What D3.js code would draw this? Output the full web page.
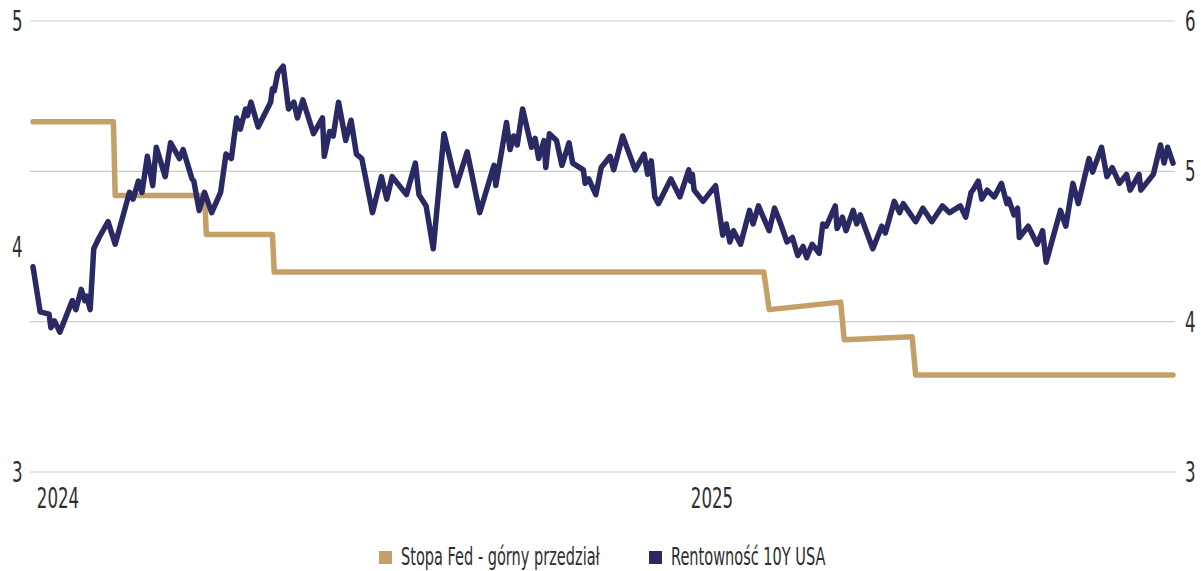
<!DOCTYPE html>
<html>
<head>
<meta charset="utf-8">
<script src="https://cdn.jsdelivr.net/npm/d3@7"></script>
<style>
  body { margin: 0; background: #fff; }
  text { font-family: "DejaVu Sans Condensed", "Liberation Sans Narrow", "Roboto", sans-serif; fill: #2e2e2e; }
</style>
</head>
<body>
<script>
// Fed upper bound (right axis)
const fedRate = [
  ["2023-12-18", 5.33], ["2024-02-01", 5.33], ["2024-02-02", 4.84], ["2024-03-23", 4.84],
  ["2024-03-24", 4.58], ["2024-04-30", 4.58], ["2024-05-01", 4.33], ["2025-01-30", 4.33],
  ["2025-02-02", 4.08], ["2025-03-14", 4.13], ["2025-03-16", 3.88], ["2025-04-23", 3.90],
  ["2025-04-25", 3.645], ["2025-09-16", 3.645]
];

// 10Y treasury yield (left axis)
const yield10y = [
  ["2023-12-18",3.91],["2023-12-22",3.71],["2023-12-27",3.70],["2023-12-28",3.64],["2023-12-30",3.67],
  ["2024-01-02",3.62],["2024-01-09",3.76],["2024-01-11",3.72],["2024-01-14",3.81],["2024-01-16",3.76],
  ["2024-01-17",3.78],["2024-01-19",3.72],["2024-01-21",3.99],["2024-01-24",4.04],["2024-01-29",4.11],
  ["2024-02-02",4.01],["2024-02-10",4.24],["2024-02-12",4.21],["2024-02-15",4.29],["2024-02-17",4.24],
  ["2024-02-20",4.40],["2024-02-23",4.27],["2024-02-25",4.44],["2024-03-01",4.31],["2024-03-04",4.46],
  ["2024-03-09",4.39],["2024-03-11",4.43],["2024-03-16",4.30],["2024-03-17",4.29],["2024-03-20",4.16],
  ["2024-03-23",4.24],["2024-03-27",4.15],["2024-04-01",4.24],["2024-04-04",4.41],["2024-04-07",4.39],
  ["2024-04-10",4.57],["2024-04-12",4.52],["2024-04-15",4.61],["2024-04-16",4.58],["2024-04-18",4.64],
  ["2024-04-22",4.53],["2024-04-29",4.64],["2024-04-30",4.70],["2024-05-01",4.69],["2024-05-03",4.77],
  ["2024-05-06",4.80],["2024-05-09",4.61],["2024-05-12",4.64],["2024-05-14",4.57],["2024-05-17",4.65],
  ["2024-05-23",4.50],["2024-05-28",4.57],["2024-05-29",4.40],["2024-06-01",4.51],["2024-06-03",4.49],
  ["2024-06-06",4.64],["2024-06-10",4.47],["2024-06-13",4.56],["2024-06-16",4.41],["2024-06-19",4.39],
  ["2024-06-25",4.15],["2024-06-30",4.31],["2024-07-03",4.21],["2024-07-06",4.31],["2024-07-14",4.23],
  ["2024-07-19",4.37],["2024-07-21",4.23],["2024-07-25",4.18],["2024-07-29",3.99],["2024-08-04",4.50],
  ["2024-08-11",4.27],["2024-08-17",4.42],["2024-08-24",4.15],["2024-09-01",4.36],["2024-09-02",4.27],
  ["2024-09-08",4.55],["2024-09-10",4.43],["2024-09-12",4.49],["2024-09-14",4.45],["2024-09-17",4.61],
  ["2024-09-22",4.44],["2024-09-24",4.48],["2024-09-26",4.39],["2024-09-29",4.47],["2024-09-30",4.35],
  ["2024-10-02",4.50],["2024-10-06",4.47],["2024-10-09",4.36],["2024-10-13",4.46],["2024-10-15",4.37],
  ["2024-10-21",4.34],["2024-10-22",4.28],["2024-10-24",4.30],["2024-10-28",4.23],["2024-10-31",4.35],
  ["2024-11-05",4.40],["2024-11-07",4.34],["2024-11-12",4.49],["2024-11-19",4.34],["2024-11-24",4.41],
  ["2024-11-26",4.32],["2024-11-28",4.38],["2024-11-30",4.22],["2024-12-02",4.19],["2024-12-09",4.30],
  ["2024-12-14",4.22],["2024-12-19",4.34],["2024-12-20",4.29],["2024-12-21",4.32],["2024-12-22",4.25],
  ["2024-12-27",4.20],["2025-01-03",4.27],["2025-01-07",4.05],["2025-01-09",4.10],["2025-01-11",4.02],
  ["2025-01-13",4.07],["2025-01-17",4.01],["2025-01-22",4.16],["2025-01-24",4.10],["2025-01-27",4.18],
  ["2025-02-02",4.07],["2025-02-05",4.17],["2025-02-08",4.11],["2025-02-12",4.02],["2025-02-15",4.04],
  ["2025-02-18",3.96],["2025-02-21",4.00],["2025-02-23",3.95],["2025-02-26",4.01],["2025-03-02",3.97],
  ["2025-03-04",4.10],["2025-03-06",4.09],["2025-03-11",4.18],["2025-03-12",4.08],["2025-03-15",4.13],
  ["2025-03-17",4.07],["2025-03-21",4.16],["2025-03-23",4.10],["2025-03-25",4.14],["2025-04-01",3.99],
  ["2025-04-06",4.09],["2025-04-08",4.06],["2025-04-13",4.20],["2025-04-16",4.15],["2025-04-18",4.19],
  ["2025-04-25",4.11],["2025-04-29",4.17],["2025-05-04",4.11],["2025-05-10",4.18],["2025-05-14",4.15],
  ["2025-05-20",4.18],["2025-05-23",4.13],["2025-05-26",4.24],["2025-05-27",4.25],["2025-05-30",4.29],
  ["2025-06-01",4.21],["2025-06-04",4.25],["2025-06-08",4.22],["2025-06-12",4.28],["2025-06-15",4.19],
  ["2025-06-16",4.21],["2025-06-19",4.14],["2025-06-21",4.17],["2025-06-22",4.04],["2025-06-27",4.09],
  ["2025-07-02",4.01],["2025-07-05",4.07],["2025-07-07",3.93],["2025-07-15",4.16],["2025-07-18",4.09],
  ["2025-07-22",4.28],["2025-07-25",4.19],["2025-07-31",4.39],["2025-08-02",4.33],["2025-08-07",4.44],
  ["2025-08-10",4.31],["2025-08-13",4.35],["2025-08-17",4.28],["2025-08-21",4.32],["2025-08-23",4.25],
  ["2025-08-28",4.32],["2025-08-29",4.25],["2025-09-05",4.32],["2025-09-09",4.45],["2025-09-11",4.37],
  ["2025-09-13",4.44],["2025-09-16",4.37]
];

const leftTicks = [3, 4, 5];
const rightTicks = [3, 4, 5, 6];
const yearTicks = ["2024-01-01", "2025-01-01"];
const yearLabels = ["2024", "2025"];
const legendNames = ["Stopa Fed - górny przedział", "Rentowność 10Y USA"];
const colors = ["#c49f68", "#292a63"];

const width = 1201;
const height = 571;
const squeeze = 0.66;
const parse = d3.timeParse("%Y-%m-%d");

const svg = d3.select('body')
  .append('svg')
  .attr('width', width)
  .attr('height', height);

const x = d3.scaleTime()
  .domain([parse("2023-12-18"), parse("2025-09-16")])
  .range([33, 1173]);

const yLeft = d3.scaleLinear().domain([3, 5]).range([472, 21]);
const yRight = d3.scaleLinear().domain([3, 6]).range([472, 21]);

// gridlines follow the right axis
svg.append('g')
  .selectAll('line')
  .data(rightTicks)
  .join('line')
  .attr('x1', 30)
  .attr('x2', 1175)
  .attr('y1', d => yRight(d))
  .attr('y2', d => yRight(d))
  .attr('stroke', '#cccccc')
  .attr('stroke-width', 1.2);

// narrow labels
const label = (g, tx, ty, str, anchor, size) => {
  g.append('text')
    .attr('transform', `translate(${tx},${ty}) scale(${squeeze},1)`)
    .attr('text-anchor', anchor)
    .style('font-size', size + 'px')
    .text(str);
};

const labels = svg.append('g');
leftTicks.forEach(t => label(labels, 12, yLeft(t) + 10, t, 'start', 28));
rightTicks.forEach(t => label(labels, 1185, yRight(t) + 10, t, 'start', 28));
yearTicks.forEach((t, i) => label(labels, x(parse(t)), 508, yearLabels[i], 'middle', 28));

// fed line
svg.append('path')
  .datum(fedRate)
  .attr('fill', 'none')
  .attr('stroke', colors[0])
  .attr('stroke-width', 5.5)
  .attr('stroke-linejoin', 'round')
  .attr('stroke-linecap', 'round')
  .attr('d', d3.line()
    .x(d => x(parse(d[0])))
    .y(d => yRight(d[1])));

// yield line
svg.append('path')
  .datum(yield10y)
  .attr('fill', 'none')
  .attr('stroke', colors[1])
  .attr('stroke-width', 5.5)
  .attr('stroke-linejoin', 'round')
  .attr('stroke-linecap', 'round')
  .attr('d', d3.line()
    .x(d => x(parse(d[0])))
    .y(d => yLeft(d[1])));

// legend
const legendX = [379, 649];
legendNames.forEach((name, i) => {
  svg.append('rect')
    .attr('x', legendX[i])
    .attr('y', 551)
    .attr('width', 13)
    .attr('height', 13)
    .attr('fill', colors[i]);
  label(svg, legendX[i] + 22, 565, name, 'start', 24.5);
});
</script>
</body>
</html>
